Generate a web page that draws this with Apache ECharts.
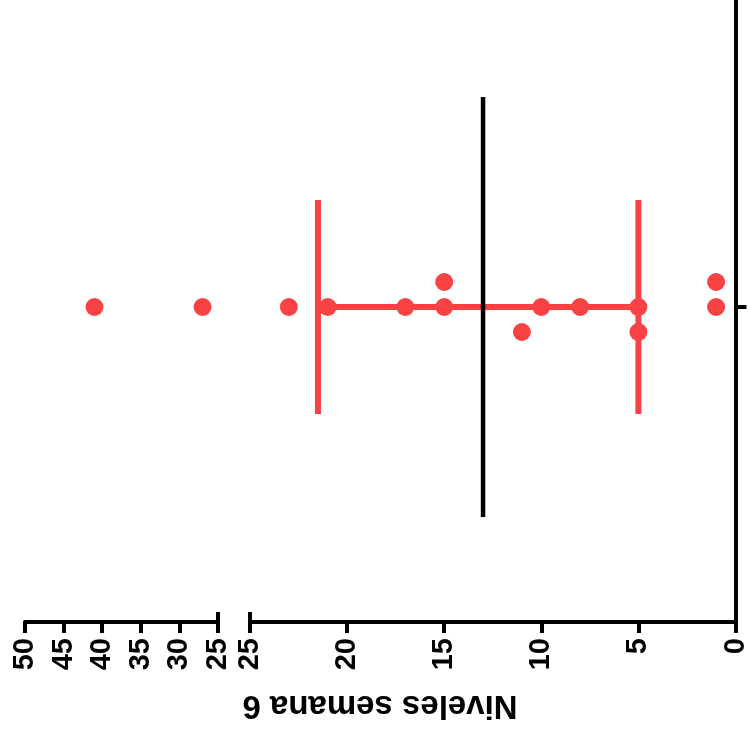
<!DOCTYPE html>
<html>
<head>
<meta charset="utf-8">
<script src="https://cdn.jsdelivr.net/npm/echarts@6/dist/echarts.min.js"></script>
<style>
  html, body { margin: 0; padding: 0; background: #fff; }
  #echart-root { width: 750px; height: 734px; }
</style>
</head>
<body>
<div id="echart-root"></div>
<script>
// datos semana 6
const values = [41, 27, 23, 21, 17, 15, 15, 11, 10, 8, 5, 5, 1, 1];
// desplazamiento vertical de cada punto (para que no se solapen)
const jitter = [0, 0, 0, 0, 0, 1, 0, -1, 0, 0, 0, -1, 1, 0];
const lowTicks = [0, 5, 10, 15, 20, 25];
const highTicks = [25, 30, 35, 40, 45, 50];
const breakAt = 25;
const axisTitle = "Niveles semana 6";

// mediana y cuartiles (metodo de GraphPad)
function quantile(arr, p) {
  const s = [...arr].sort((a, b) => a - b);
  const r = (s.length + 1) * p - 1;
  const lo = Math.floor(r);
  const hi = Math.min(lo + 1, s.length - 1);
  return s[lo] + (r - lo) * (s[hi] - s[lo]);
}
const median = quantile(values, 0.5);
const q1 = quantile(values, 0.25);
const q3 = quantile(values, 0.75);

const RED = "#F84244";
const FONT = "Liberation Sans";
const YMIN = -12.6, YMAX = 12.28;

const lowPts = [], highPts = [];
values.forEach((v, i) => {
  (v > breakAt ? highPts : lowPts).push([v, jitter[i]]);
});

function xAxisCfg(grid, ticks) {
  return {
    gridIndex: grid,
    type: "value",
    inverse: true,
    min: ticks[0],
    max: ticks[ticks.length - 1],
    interval: ticks[1] - ticks[0],
    axisLine: { show: true, onZero: false, lineStyle: { color: "#000", width: 4 } },
    axisTick: { show: true, length: 11, lineStyle: { color: "#000", width: 4 } },
    axisLabel: {
      rotate: 90,
      margin: 16,
      color: "#000",
      fontSize: 29,
      fontWeight: "bold",
      fontFamily: FONT,
    },
    splitLine: { show: false },
  };
}

const myChart = echarts.init(document.getElementById("echart-root"));

const option = {
  animation: false,
  backgroundColor: "#fff",
  grid: [
    { left: 250, right: 13, top: 0, bottom: 112 },
    { left: 25, width: 193, top: 0, bottom: 112 },
  ],
  xAxis: [xAxisCfg(0, lowTicks), xAxisCfg(1, highTicks)],
  yAxis: [
    {
      gridIndex: 0,
      type: "value",
      position: "right",
      min: YMIN,
      max: YMAX,
      axisLine: { show: true, onZero: false, lineStyle: { color: "#000", width: 4 } },
      axisTick: { show: true, customValues: [0], length: 11, lineStyle: { color: "#000", width: 4 } },
      axisLabel: { show: false },
      splitLine: { show: false },
    },
    { gridIndex: 1, type: "value", min: YMIN, max: YMAX, show: false },
  ],
  graphic: [
    {
      type: "text",
      x: 380,
      y: 705,
      rotation: Math.PI,
      style: {
        text: axisTitle,
        fontSize: 33,
        fontWeight: "bold",
        fontFamily: FONT,
        fill: "#000",
        align: "center",
        verticalAlign: "middle",
      },
    },
  ],
  series: [
    // marcas del corte del eje
    {
      type: "line", xAxisIndex: 0, yAxisIndex: 0, symbol: "none",
      data: [[breakAt, YMIN], [breakAt, YMIN + 0.4]],
      lineStyle: { color: "#000", width: 4 },
    },
    {
      type: "line", xAxisIndex: 1, yAxisIndex: 1, symbol: "none",
      data: [[breakAt, YMIN], [breakAt, YMIN + 0.4]],
      lineStyle: { color: "#000", width: 4 },
    },
    // rango intercuartil
    {
      type: "line", xAxisIndex: 0, yAxisIndex: 0, symbol: "none",
      data: [[q3, 0], [q1, 0]],
      lineStyle: { color: RED, width: 6 },
    },
    {
      type: "line", xAxisIndex: 0, yAxisIndex: 0, symbol: "none",
      data: [[q3, -4.28], [q3, 4.28]],
      lineStyle: { color: RED, width: 6 },
    },
    {
      type: "line", xAxisIndex: 0, yAxisIndex: 0, symbol: "none",
      data: [[q1, -4.28], [q1, 4.28]],
      lineStyle: { color: RED, width: 6 },
    },
    // mediana
    {
      type: "line", xAxisIndex: 0, yAxisIndex: 0, symbol: "none",
      data: [[median, -8.4], [median, 8.4]],
      lineStyle: { color: "#000", width: 4.5 },
    },
    // puntos
    {
      type: "scatter", xAxisIndex: 0, yAxisIndex: 0,
      data: lowPts, symbolSize: 18, itemStyle: { color: RED, opacity: 1 },
    },
    {
      type: "scatter", xAxisIndex: 1, yAxisIndex: 1,
      data: highPts, symbolSize: 18, itemStyle: { color: RED, opacity: 1 },
    },
  ],
};

myChart.setOption(option);
</script>
</body>
</html>
